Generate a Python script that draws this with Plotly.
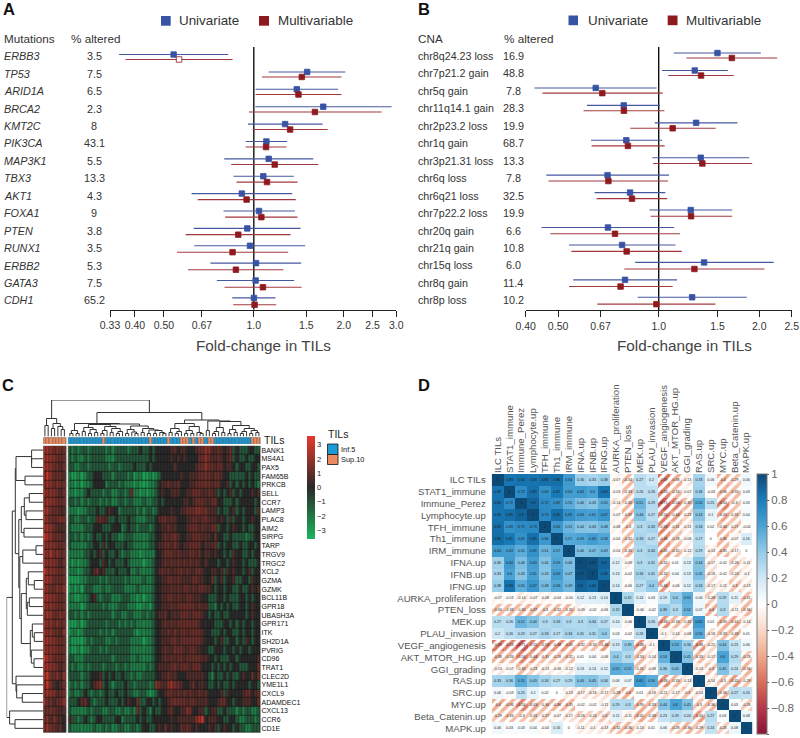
import math
import plotly.graph_objects as go
from plotly.colors import sample_colorscale

W, H = 800, 738
FONT = "Liberation Sans"
BLUE, RED = "#3953a4", "#8e1a1f"
BLUE_L, RED_L = "#46599f", "#a4383c"

# ---------- Panel A ----------
mut_genes = ["ERBB3","TP53","ARID1A","BRCA2","KMT2C","PIK3CA","MAP3K1","TBX3","AKT1","FOXA1","PTEN","RUNX1","ERBB2","GATA3","CDH1"]
mut_altered = ["3.5","7.5","6.5","2.3","8","43.1","5.5","13.3","4.3","9","3.8","3.5","5.3","7.5","65.2"]
mut_u_lo = [.354,1.122,1.014,1.012,.956,.939,.796,.855,.619,.792,.629,.632,.716,.752,.847]
mut_u_pt = [.539,1.509,1.393,1.708,1.273,1.102,1.122,1.076,.912,1.041,.951,.971,1.017,1.014,1.001]
mut_u_hi = [.821,2.026,1.915,2.893,1.699,1.293,1.581,1.361,1.344,1.372,1.434,1.486,1.441,1.365,1.181]
mut_m_lo = [.372,1.065,1.014,.963,.991,.939,.840,.875,.649,.802,.591,.553,.602,.798,.853]
mut_m_pt = [.562,1.448,1.411,1.602,1.323,1.099,1.175,1.107,.946,1.060,.887,.849,.871,1.073,1.006]
mut_m_hi = [.849,1.966,1.966,2.678,1.767,1.286,1.644,1.401,1.382,1.401,1.327,1.303,1.257,1.445,1.188]
ticks_a = [0.33,0.40,0.50,0.67,1.0,1.5,2.0,2.5,3.0]
ticktext_a = ["0.33","0.40","0.50","0.67","1.0","1.5","2.0","2.5","3.0"]

# ---------- Panel B ----------
cna_names = ["chr8q24.23 loss","chr7p21.2 gain","chr5q gain","chr11q14.1 gain","chr2p23.2 loss","chr1q gain","chr3p21.31 loss","chr6q loss","chr6q21 loss","chr7p22.2 loss","chr20q gain","chr21q gain","chr15q loss","chr8q gain","chr8p loss"]
cna_altered = ["16.9","48.8","7.8","28.3","19.9","68.7","13.3","7.8","32.5","19.9","6.6","10.8","6.0","11.4","10.2"]
cna_u_lo = [1.109,1.023,.425,.610,.973,.627,.957,.461,.643,.938,.446,.539,.850,.555,.865]
cna_u_pt = [1.499,1.282,.648,.786,1.294,.800,1.336,.703,.821,1.247,.705,.777,1.367,.793,1.259]
cna_u_hi = [2.021,1.610,.986,1.009,1.720,1.023,1.865,1.074,1.047,1.659,1.112,1.122,2.210,1.135,1.835]
cna_m_lo = [1.210,1.069,.449,.596,.822,.630,.962,.468,.652,.946,.474,.548,.789,.539,.655]
cna_m_pt = [1.655,1.339,.678,.787,1.101,.809,1.351,.707,.832,1.250,.740,.802,1.279,.769,.984]
cna_m_hi = [2.262,1.677,1.028,1.040,1.481,1.042,1.904,1.066,1.061,1.659,1.158,1.172,2.072,1.101,1.478]
ticks_b = [0.40,0.50,0.67,1.0,1.5,2.0,2.5]
ticktext_b = ["0.40","0.50","0.67","1.0","1.5","2.0","2.5"]

# ---------- Panel C ----------
heat_genes = ["BANK1","MS4A1","PAX5","FAM65B","PRKCB","SELL","CCR7","LAMP3","PLAC8","AIM2","SIRPG","TARP","TRGV9","TRGC2","XCL2","GZMA","GZMK","BCL11B","GPR18","UBASH3A","GPR171","ITK","SH2D1A","PVRIG","CD96","TRAT1","CLEC2D","YME1L1","CXCL9","ADAMDEC1","CXCL13","CCR6","CD1E"]
# estimated cell levels, one digit per cell
heat_levels = [-3.4,-3.0,-2.2,-1.2,0.0,0.7,1.2,1.7,2.2,3.0]
heat_left = ["8876766","8877666","8876656","7976665","7876766","8777656","7877666","8866655","8766676","8876555","9876665","8777666","8786766","8777656","9777666","8876666","8766767","8877666","8777666","7876676","8776766","8776657","8877666","8777666","9876666","8877656","8966757","7965456","7877566","8665667","6666555","6757554","6866564"]
heat_right = [
"3232332333 3323233332 3334334344 4445545544 4566775565 4563433344 33",
"3232232333 3322233333 3333334344 4445454544 4466765565 4563433433 44",
"3322332333 3332332333 3433343444 4444544444 4566766566 4554344334 43",
"2112123344 4333233332 3122112123 4444445445 5566665665 4433333434 33",
"2212122344 4423332322 2121112234 5565564445 5666665664 4534343434 32",
"2212234333 3233223323 6221212234 5445554455 6665565534 3453434445 45",
"3323232333 2323223323 3222322334 3444444554 5666556644 3334344444 34",
"2221223334 3345442333 3323233234 4445445566 6776655534 3345343444 35",
"3322332335 6553343334 3322233345 6656544455 6656655545 4353443445 44",
"3222233344 4333444234 3323332344 5565544456 6656556634 4345443433 44",
"3323232343 3434332233 3222223344 5656654455 6665554644 3343333233 44",
"3222223344 3534433343 3222223345 5665654556 6664555634 3443343344 34",
"2222233434 5343343233 2221222244 5666565556 6564554544 3435443343 44",
"2121223444 3543433343 2222122344 5656565656 5654544434 4345443433 34",
"2221233456 4533343334 2232222345 6565566565 5665445545 3545443453 44",
"1111223333 2323333323 2222322344 5566565555 6655446345 3445334435 44",
"1212133322 2322333322 2232222344 5556565665 6566554344 3443343345 45",
"2211223453 2333222333 2212122344 5566565566 5554433344 3433344343 44",
"2222123333 3232223332 2211221344 5556566666 6565533243 4343344345 44",
"3323232333 3333233223 3222323345 5645556665 6665434334 3344444345 44",
"1112123333 3323332323 2322222344 5656566666 6654444333 4434343443 44",
"1221233333 2323233333 3212222344 5565656656 6665443334 3443343443 44",
"2111123233 3322323333 2222122344 5556656666 6665444345 3344343543 44",
"2112122333 2323333333 2222222344 5655666556 6554433444 3443434434 44",
"3322233333 3333233333 2232222344 5656566566 6665544343 3344344444 45",
"3232232333 3233323323 2222232345 5556656665 6664443434 3434433344 46",
"3333233444 5343433433 2322333344 5565544455 5555432433 4343345446 46",
"2323233456 7343233343 3233332376 5578665445 6455433434 3343444434 43",
"2322343233 2343343343 3223321234 4566565656 5565544445 3544445664 56",
"3334564323 3343334345 4463344343 4456666656 6555544456 6443445554 46",
"3222223233 3223322322 3263432433 4456445576 4455345533 4333232332 23",
"5332343234 4333344233 3343433444 4445455555 5789455544 3344322333 23",
"3222222232 2323223322 3323443345 4645446565 4544454534 5443433223 33",
]
til_right = "0000000000 0100000000 0000001000 0010001110 1011011000 0000000001 11"
# dendrograms: [merge height, child, child]; 0 = leaf, leaves in display order
col_left_tree = [18,[11,0,0],[13,[8,0,0],[10,0,[7,0,0]]]]
col_g2 = [12,[9,[5,0,0],[7,[3,0,0],[4,0,0]]],[10,[6,[3,0,0],0],[8,[4,0,0],[5,[3,0,0],0]]]]
col_g3 = [10.5,[7,[3,0,0],[4.5,0,[3,0,0]]],[8,[4,0,0],[6.5,[3,0,0],[6,[3,0,0],[4,0,[3,0,0]]]]]]
col_g = [13,[6,[3,0,0],[3,0,0]],[12.5,col_g2,col_g3]]
col_r1 = [13,[8,[4,0,0],[5,[3,0,0],0]],[10,[6,[3,0,0],[3,0,0]],[4,0,[3,0,0]]]]
col_r2 = [15,[9,[5,[3,0,0],0],[4,0,0]],[11,[7,[3,0,0],[4,0,0]],[8,[5,[3,0,0],0],[6,[3,0,0],[4,0,0]]]]]
col_tree = [36.5,col_left_tree,[24,col_g,[16.5,col_r1,[15.5,[6,0,0],col_r2]]]]
row_t1 = [27.3,[11.7,0,[11.7,0,0]],[18.3,0,0]]
row_t2 = [22,[19,[14,0,0],[17.3,0,0]],[19.3,0,0]]
row_t3 = [23.5,[20.5,[7.3,0,0],0],[22,[17,[15,0,[9,0,0]],[16,[14,0,0],0]],[13,[11,0,[9,0,0]],[12,0,[9.3,0,0]]]]]
row_t4 = [27.3,0,[26.6,0,[21,0,0]]]
row_t5 = [33.7,0,[28.3,0,0]]
row_tree = [36.7,[31,[28,row_t1,[24.5,row_t2,row_t3]],row_t4],row_t5]

# ---------- Panel D ----------
corr_names = ["ILC TILs","STAT1_immune","Immune_Perez","Lymphocyte.up","TFH_immune","Th1_immune","IRM_immune","IFNA.up","IFNB.up","IFNG.up","AURKA_proliferation","PTEN_loss","MEK.up","PLAU_invasion","VEGF_angiogenesis","AKT_MTOR_HG.up","GGI_grading","RAS.up","SRC.up","MYC.up","Beta_Catenin.up","MAPK.up"]
corr = [
[1,.83,.84,.83,.85,.86,.64,.36,.33,.38,-.07,-.34,.27,.2,-.59,-.38,-.13,.33,.06,-.4,-.29,.06],
[.83,1,.72,.85,.69,.81,.63,.64,.6,.83,-.03,-.33,.26,.26,-.53,-.33,-.07,.36,-.03,-.36,-.33,.03],
[.84,.72,1,.9,.72,.69,.55,.46,.43,.55,-.14,-.35,.51,.29,-.71,-.54,-.35,.55,.25,-.54,-.3,.03],
[.83,.85,.9,1,.73,.85,.69,.63,.61,.67,-.07,-.37,.44,.27,-.55,-.44,-.23,.43,.1,-.43,-.31,.04],
[.85,.69,.72,.73,1,.66,.51,.44,.43,.48,-.08,-.3,.3,.33,-.53,-.31,-.13,.34,.02,-.34,-.27,-.04],
[.86,.81,.69,.85,.66,1,.57,.59,.63,.58,-.04,-.32,.33,.27,-.48,-.28,-.08,.27,0,-.36,-.07,.16],
[.64,.63,.55,.69,.51,.57,1,.46,.47,.49,-.04,-.35,.3,.34,-.45,-.32,-.12,.29,-.13,-.35,-.17,0],
[.36,.64,.46,.63,.44,.59,.46,1,.97,.9,.12,-.09,.3,.31,-.32,.01,.13,.44,-.17,-.02,-.26,-.11],
[.33,.6,.43,.61,.43,.63,.47,.97,1,.86,.13,-.02,.34,.31,-.32,.04,.13,.45,-.18,-.02,-.24,-.1],
[.38,.83,.55,.67,.48,.58,.49,.9,.86,1,.14,-.06,.27,.4,-.46,-.06,.12,.34,-.17,-.11,-.3,-.13],
[-.07,-.03,-.14,-.07,-.08,-.04,-.04,.12,.13,.14,1,.32,.14,.03,.19,.4,.55,.06,-.28,.29,.11,-.32],
[-.34,-.33,-.35,-.37,-.3,-.32,-.35,-.09,-.02,-.06,.32,1,-.06,-.02,.39,.3,.52,.07,-.4,.3,-.11,-.36],
[.27,.26,.51,.44,.3,.33,.3,.3,.34,.27,.14,-.06,1,.26,-.48,-.33,-.31,.65,.01,-.39,-.41,-.14],
[.2,.26,.29,.27,.33,.27,.34,.31,.31,.4,.03,-.02,.26,1,-.1,-.14,-.08,.56,-.18,-.33,-.33,.01],
[-.59,-.53,-.71,-.55,-.53,-.48,-.45,-.32,-.32,-.46,.19,.39,-.48,-.1,1,.53,.36,-.48,-.21,.44,.23,.06],
[-.38,-.33,-.54,-.44,-.31,-.28,-.32,.01,.04,-.06,.4,.3,-.33,-.14,.53,1,.45,-.33,-.17,.6,.29,-.28],
[-.13,-.07,-.35,-.23,-.13,-.08,-.12,.13,.13,.12,.55,.52,-.31,-.08,.36,.45,1,-.13,-.3,.45,.24,-.36],
[.33,.36,.55,.43,.34,.27,.29,.44,.45,.34,.06,.07,.65,.56,-.48,-.33,-.13,1,-.14,-.3,-.45,-.29],
[.06,-.03,.25,.1,.02,0,-.13,-.17,-.18,-.17,-.28,-.4,.01,-.18,-.21,-.17,-.3,-.14,1,-.36,.27,.24],
[-.4,-.36,-.54,-.43,-.34,-.36,-.35,-.02,-.02,-.11,.29,.3,-.39,-.33,.44,.6,.45,-.3,-.36,1,.03,-.26],
[-.29,-.33,-.3,-.31,-.27,-.07,-.17,-.26,-.24,-.3,.11,-.11,-.41,-.33,.23,.29,.24,-.45,.27,.03,1,.08],
[.06,.03,.03,.04,-.04,.16,0,-.11,-.1,-.13,-.32,-.36,-.14,.01,.06,-.28,-.36,-.29,.24,-.26,.08,1],
]
corr_scale = [[0,"#8a1338"],[.1,"#b5394a"],[.2,"#d86f5d"],[.3,"#efa98d"],[.4,"#f9d9c9"],[.5,"#ffffff"],[.6,"#cfe8f5"],[.7,"#93cbe8"],[.8,"#4aa3d5"],[.9,"#1a7dbb"],[1,"#0c4a78"]]
heat_scale = [[0,"#1bb45c"],[.5,"#2a2a2a"],[1,"#e8392b"]]


def dx(a, b):
    return [a / W, b / W]


def dy(top, bottom):
    return [1 - bottom / H, 1 - top / H]


fig = go.Figure()
annotations, shapes = [], []


def ann(text, x, y, size, color="#333", anchor="left"):
    annotations.append(dict(text=text, x=x / W, y=1 - y / H, xref="paper", yref="paper", showarrow=False,
                            xanchor=anchor, yanchor="middle", borderpad=0,
                            font=dict(family=FONT, size=size, color=color)))


def square(x0, x1, y0, y1, color, line=None):
    shapes.append(dict(type="rect", xref="paper", yref="paper", x0=x0 / W, x1=x1 / W, y0=1 - y1 / H, y1=1 - y0 / H,
                       fillcolor=color, line=dict(color=line or color, width=0.8 if line else 0)))


ya_top = {"x": -0.573, "x2": -0.486}
ya_bot = {"x": 14.48, "x2": 14.53}


def forest(names, u, m, xa, ya, hollow):
    rows = list(range(len(names)))
    fig.add_trace(go.Scatter(x=[1, 1], y=[ya_top[xa], ya_bot[xa]], mode="lines", xaxis=xa, yaxis=ya,
                             line=dict(color="#111", width=1.4), showlegend=False, hoverinfo="skip"))
    u_off = [r - 0.14 - 0.004 * r for r in rows]
    m_off = [r + 0.14 + 0.004 * r for r in rows]
    for (lo, pt, hi), ys, col, lcol in ((u, u_off, BLUE, BLUE_L), (m, m_off, RED, RED_L)):
        face = [col] * len(pt)
        if hollow and col == RED:
            face[0] = "#ffffff"
        fig.add_trace(go.Scatter(
            x=pt, y=ys, mode="markers", xaxis=xa, yaxis=ya, showlegend=False,
            marker=dict(symbol="square", size=5.5, color=face, line=dict(color=col, width=0.8)),
            error_x=dict(type="data", symmetric=False, array=[h - p for h, p in zip(hi, pt)],
                         arrayminus=[p - l for l, p in zip(lo, pt)], color=lcol, thickness=1.1, width=0)))


forest(mut_genes, (mut_u_lo, mut_u_pt, mut_u_hi), (mut_m_lo, mut_m_pt, mut_m_hi), "x", "y", True)
forest(cna_names, (cna_u_lo, cna_u_pt, cna_u_hi), (cna_m_lo, cna_m_pt, cna_m_hi), "x2", "y2", False)

for i, (g, a) in enumerate(zip(mut_genes, mut_altered)):
    y = 56.3 + 17.44 * i
    ann(f"<i>{g}</i>", 3, y, 10.8)
    ann(a, 94, y, 10.8, anchor="center")
for i, (g, a) in enumerate(zip(cna_names, cna_altered)):
    y = 56.0 + 17.45 * i
    ann(g, 416.7, y, 10.7)
    ann(a, 513, y, 10.8, anchor="center")

ann("Mutations", 2.5, 38.5, 11.7)
ann("% altered", 70, 38.5, 11.7)
ann("CNA", 416.7, 38.5, 11.7)
ann("% altered", 502.5, 38.5, 11.7)
ann("Fold-change in TILs", 263, 345.5, 15.3, "#444", "center")
ann("Fold-change in TILs", 684, 345.5, 15.3, "#444", "center")
for letter, x, y in (("A", 1.5, 8.5), ("B", 416.5, 8.5), ("C", 1, 384.5), ("D", 416.5, 384.5)):
    ann(f"<b>{letter}</b>", x, y, 16.5, "#111")
square(161, 170.7, 16, 25.7, BLUE)
square(259, 269, 16, 25.7, RED)
square(568.5, 578, 15.5, 25.2, BLUE)
square(667.7, 677.5, 15.5, 25.2, RED)
ann("Univariate", 178, 20, 13.4, "#333")
ann("Multivariable", 277, 20, 13.4, "#333")
ann("Univariate", 587.2, 20, 13.4, "#333")
ann("Multivariable", 684.8, 20, 13.4, "#333")

# ----- Panel C -----
lw = 1.046
left_x = [(i + .5) * lw for i in range(7)]
right_x = [8.06 + i + .5 for i in range(62)]
z_left = [[heat_levels[int(c)] for c in row] for row in heat_left]
z_right = [[heat_levels[int(c)] for c in row.replace(" ", "")] for row in heat_right]
gene_rows = list(range(len(heat_genes)))
x_end = 70.06
for x0, x1 in ((0, 7 * lw), (8.06, x_end)):
    shapes.append(dict(type="rect", xref="x3", yref="y3", x0=x0, x1=x1, y0=-.5, y1=32.5, layer="below",
                       fillcolor="#111111", line=dict(color="#8a8a8a", width=1)))
    shapes.append(dict(type="rect", xref="x3", yref="y4", x0=x0, x1=x1, y0=0, y1=1, layer="below",
                       fillcolor="#555555", line=dict(color="#777777", width=0.6)))
fig.add_trace(go.Heatmap(x=left_x, y=gene_rows, z=z_left, xaxis="x3", yaxis="y3", coloraxis="coloraxis2",
                         xgap=0.4, ygap=0.6, hoverongaps=False))
fig.add_trace(go.Heatmap(x=right_x, y=gene_rows, z=z_right, xaxis="x3", yaxis="y3", coloraxis="coloraxis2",
                         xgap=0.4, ygap=0.6, hoverongaps=False))
til_colors = [[0, "#1c9ad6"], [1, "#ec8a60"]]
fig.add_trace(go.Heatmap(x=left_x, y=[.5], z=[[1] * 7], xaxis="x3", yaxis="y4", colorscale=til_colors, zmin=0, zmax=1,
                         showscale=False, xgap=0.6))
fig.add_trace(go.Heatmap(x=right_x, y=[.5], z=[[int(c) for c in til_right.replace(" ", "")]], xaxis="x3", yaxis="y4",
                         colorscale=til_colors, zmin=0, zmax=1, showscale=False, xgap=0.6))


def walk(node, pos, xs, ys):
    if node == 0:
        return next(pos), 0
    h, a, b = node
    xa, ha = walk(a, pos, xs, ys)
    xb, hb = walk(b, pos, xs, ys)
    xs += [xa, xa, xb, xb, None]
    ys += [ha, h, h, hb, None]
    return (xa + xb) / 2, h


cx, cy = [], []
walk(col_tree, iter(left_x + right_x), cx, cy)
fig.add_trace(go.Scatter(x=cx, y=cy, mode="lines", xaxis="x3", yaxis="y5", showlegend=False, hoverinfo="skip",
                         line=dict(color="#333", width=1)))
rh, rp = [], []
walk(row_tree, iter(gene_rows), rp, rh)
fig.add_trace(go.Scatter(x=[None if v is None else -v for v in rh], y=rp, mode="lines", xaxis="x4", yaxis="y3",
                         showlegend=False, hoverinfo="skip", line=dict(color="#333", width=1)))

ann("TILs", 263, 439.5, 10.5, "#222")
ann("TILs", 326.5, 434, 10.5, "#222")
square(327.5, 338, 444, 454.5, "#1c9ad6", "#111")
square(327.5, 338, 454.5, 464.5, "#ec8a60", "#111")
ann("Inf.5", 340, 449, 7.4, "#111")
ann("Sup.10", 340, 459.5, 7.4, "#111")

# ----- Panel D -----
idx = list(range(len(corr_names)))
z_pos = [[v if v >= 0 else None for v in row] for row in corr]
fig.add_trace(go.Heatmap(x=idx, y=idx, z=z_pos, xaxis="x5", yaxis="y6", coloraxis="coloraxis", hoverongaps=False))
nx, nb, nc = [], [], []
for j, row in enumerate(corr):
    for i, v in enumerate(row):
        if v < 0:
            nx.append(i)
            nb.append(j - .5)
            nc.append((v + 1) / 2)
fig.add_trace(go.Bar(x=nx, y=[1] * len(nx), base=nb, width=1, xaxis="x5", yaxis="y6", showlegend=False,
                     marker=dict(color="#ffffff", line=dict(width=0),
                                 pattern=dict(shape="/", fillmode="replace", bgcolor="#ffffff",
                                              fgcolor=sample_colorscale(corr_scale, nc), size=7, solidity=0.5))))
tx, ty, tt = [], [], []
for j, row in enumerate(corr):
    for i, v in enumerate(row):
        tx.append(i)
        ty.append(j)
        tt.append(f"{v:g}")
fig.add_trace(go.Scatter(x=tx, y=ty, text=tt, mode="text", xaxis="x5", yaxis="y6", showlegend=False,
                         textfont=dict(family=FONT, size=3.6, color="#1a1a1a"), hoverinfo="skip"))

forest_y = dict(showgrid=False, zeroline=False, showticklabels=False, ticks="", showline=False)
hidden = dict(showgrid=False, zeroline=False, showticklabels=False, ticks="", showline=False)
axis_font = dict(family=FONT, size=10.5, color="#333")
fig.update_layout(
    width=W, height=H, margin=dict(l=0, r=0, t=0, b=0, autoexpand=False), paper_bgcolor="white", plot_bgcolor="white",
    showlegend=False, bargap=0, barmode="overlay", font=dict(family=FONT),
    annotations=annotations, shapes=shapes,
    xaxis=dict(domain=dx(110, 396.3), type="log", range=[math.log10(.33), math.log10(3)], tickvals=ticks_a,
               ticktext=ticktext_a, ticks="outside", ticklen=6, tickwidth=1.2, tickcolor="#222", showline=True,
               linecolor="#222", linewidth=1.3, showgrid=False, zeroline=False, anchor="y", tickfont=axis_font, tickangle=0),
    yaxis=dict(domain=dy(47, 309.7), range=[ya_bot["x"], ya_top["x"]], anchor="x", **forest_y),
    xaxis2=dict(domain=dx(525.7, 791.7), type="log", range=[math.log10(.4), math.log10(2.5)], tickvals=ticks_b,
                ticktext=ticktext_b, ticks="outside", ticklen=6, tickwidth=1.2, tickcolor="#222", showline=True,
                linecolor="#222", linewidth=1.3, showgrid=False, zeroline=False, anchor="y2", tickfont=axis_font, tickangle=0),
    yaxis2=dict(domain=dy(47, 310), range=[ya_bot["x2"], ya_top["x2"]], anchor="x2", **forest_y),
    xaxis3=dict(domain=dx(43.3, 260.5), range=[0, x_end], anchor="y3", **hidden),
    yaxis3=dict(domain=dy(445.7, 732.7), range=[32.5, -.5], anchor="x3", side="right", tickvals=gene_rows,
                ticktext=heat_genes, showgrid=False, zeroline=False, ticks="", showline=False,
                tickfont=dict(family=FONT, size=7, color="#111")),
    yaxis4=dict(domain=dy(437.3, 444), range=[0, 1], anchor="x3", **hidden),
    yaxis5=dict(domain=dy(400, 436.5), range=[0, 36.5], anchor="x3", **hidden),
    xaxis4=dict(domain=dx(6.6, 43.3), range=[-36.7, 0], anchor="y3", **hidden),
    xaxis5=dict(domain=dx(491.7, 752.3), range=[-.5, 21.5], anchor="y6", side="top", tickvals=idx, ticktext=corr_names,
                tickangle=-90, showgrid=False, zeroline=False, ticks="", showline=False,
                tickfont=dict(family=FONT, size=9.6, color="#555")),
    yaxis6=dict(domain=dy(474, 734.3), range=[21.5, -.5], anchor="x5", tickvals=idx, ticktext=corr_names,
                showgrid=False, zeroline=False, ticks="outside", ticklen=3, tickcolor="rgba(0,0,0,0)",
                tickfont=dict(family=FONT, size=9.6, color="#555")),
    coloraxis=dict(colorscale=corr_scale, cmin=-1, cmax=1, colorbar=dict(
        x=756.7 / W, xanchor="left", y=1 - 474 / H, yanchor="top", lenmode="pixels", len=260, thickness=10,
        thicknessmode="pixels", xpad=0, ypad=0, outlinecolor="#777", outlinewidth=1, ticks="outside", ticklen=2,
        tickcolor="#555", tickvals=[1, .8, .6, .4, .2, 0, -.2, -.4, -.6, -.8, -1],
        ticktext=["1", "0.8", "0.6", "0.4", "0.2", "0", "−0.2", "−0.4", "−0.6", "−0.8", "−1"],
        tickfont=dict(family=FONT, size=11.5, color="#666"))),
    coloraxis2=dict(colorscale=heat_scale, cmin=-3.6, cmax=3.6, colorbar=dict(
        x=306.6 / W, xanchor="left", y=1 - 436 / H, yanchor="top", lenmode="pixels", len=103.3, thickness=7.7,
        thicknessmode="pixels", xpad=0, ypad=0, outlinewidth=0, ticks="", tickvals=[3, 2, 1, 0, -1, -2, -3],
        tickfont=dict(family=FONT, size=7.5, color="#222"))),
)
fig.write_html("out.html", config=dict(displayModeBar=False), post_script="document.body.style.margin='0';")
